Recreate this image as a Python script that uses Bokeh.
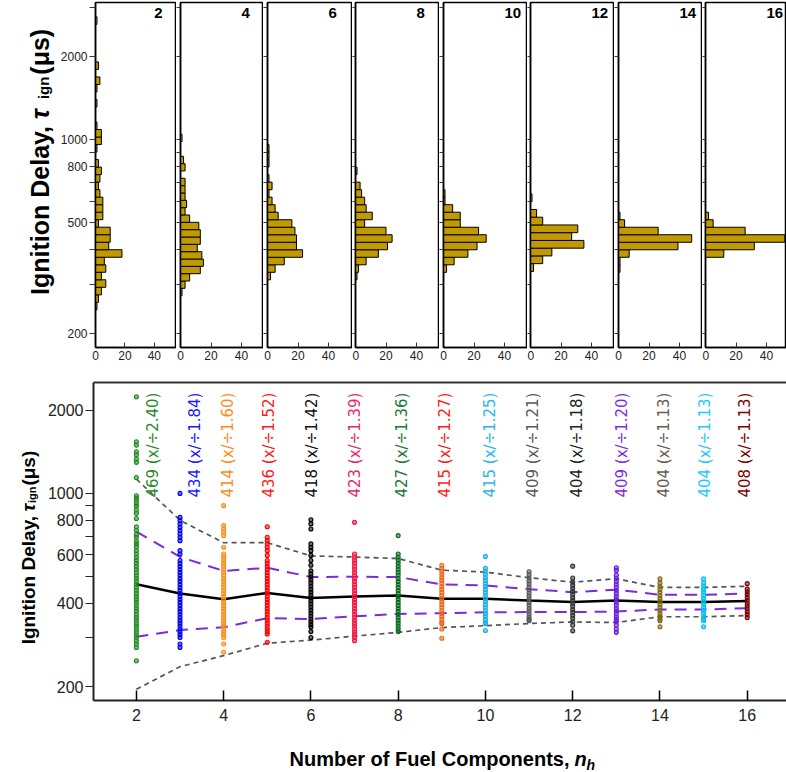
import math
from bokeh.plotting import figure
from bokeh.models import (Range1d, FixedTicker, LinearAxis, ColumnDataSource, PrintfTickFormatter,
                          CustomJSTickFormatter, CustomLabelingPolicy)
from bokeh.layouts import row, column
from bokeh.embed import file_html
from bokeh.resources import INLINE
from bokeh.core.properties import value

# ---------------- data ----------------
N_COMPONENTS = list(range(2, 17))
GEO_MEAN = [469, 434, 414, 436, 418, 423, 427, 415, 415, 409, 404, 409, 404, 404, 408]
SPREAD = [2.40, 1.84, 1.60, 1.52, 1.42, 1.39, 1.36, 1.27, 1.25, 1.21, 1.18, 1.20, 1.13, 1.13, 1.13]

TAU_N2 = [2235, 1536, 1494, 1414, 1379, 1330, 1294, 1141, 980, 962, 940, 915, 897, 870, 846, 811,
          757, 733, 708, 693, 670, 656, 641, 620, 603, 587, 572, 558, 544, 531, 518, 505, 493, 481,
          469, 457, 446, 435, 424, 414, 404, 394, 384, 375, 365, 356, 348, 339, 331, 323, 315, 307,
          300, 292, 285, 277, 248]
TAU_N3 = [999, 818, 796, 775, 753, 733, 713, 693, 674, 620, 603, 571, 557, 543, 530, 517, 504, 492,
          480, 468, 456, 445, 434, 423, 413, 403, 393, 383, 374, 365, 356, 347, 339, 331, 323, 315,
          308, 301, 285, 277]
TAU_N4 = [902, 764, 743, 723, 703, 638, 603, 588, 573, 559, 545, 531, 518, 505, 492, 480, 468, 456,
          445, 434, 423, 413, 403, 393, 383, 374, 365, 356, 347, 339, 331, 323, 315, 308, 301, 285, 266]
TAU_N5 = [757, 693, 674, 656, 638, 620, 596, 571, 557, 543, 530, 517, 504, 492, 480, 468, 456, 445,
          434, 423, 413, 403, 393, 383, 374, 365, 356, 347, 339, 331, 323, 316, 310, 289]
TAU_N6 = [802, 775, 743, 656, 638, 620, 596, 571, 549, 524, 511, 498, 486, 474, 462, 450, 439, 428,
          418, 408, 398, 388, 378, 369, 360, 351, 343, 335, 328, 316, 301]
TAU_N7 = [785, 603, 588, 573, 559, 545, 531, 518, 505, 492, 480, 468, 456, 445, 434, 423, 413, 403,
          393, 383, 374, 365, 356, 347, 339, 331, 323, 315, 308, 301, 293]
TAU_N8 = [703, 603, 588, 573, 559, 545, 531, 518, 505, 492, 480, 468, 456, 445, 434, 423, 413, 403,
          393, 383, 374, 365, 356, 347, 339, 331, 323, 316]
TAU_N9 = [549, 535, 522, 509, 496, 484, 472, 460, 449, 438, 427, 416, 406, 396, 386, 376, 367, 358,
          349, 341, 337, 323, 299]
TAU_N10 = [591, 535, 522, 509, 496, 484, 472, 460, 449, 438, 427, 416, 406, 396, 386, 376, 367, 358,
           349, 341, 337, 319]
TAU_N11 = [520, 507, 494, 482, 470, 458, 447, 436, 425, 414, 404, 394, 384, 375, 366, 357, 350, 346]
TAU_N12 = [545, 494, 477, 465, 453, 442, 431, 420, 410, 400, 390, 380, 371, 362, 353, 343, 333, 318]
TAU_N13 = [538, 526, 506, 493, 481, 469, 457, 446, 435, 424, 414, 404, 394, 384, 375, 366, 357, 349,
           343, 333, 323, 314]
TAU_N14 = [490, 473, 461, 449, 438, 427, 416, 406, 396, 386, 376, 367, 358, 350, 346, 329]
TAU_N15 = [490, 474, 462, 450, 439, 428, 417, 407, 397, 387, 377, 368, 359, 351, 346, 329]
TAU_N16 = [471, 450, 440, 430, 420, 410, 400, 391, 382, 373, 364, 355]
TAU = [TAU_N2, TAU_N3, TAU_N4, TAU_N5, TAU_N6, TAU_N7, TAU_N8, TAU_N9, TAU_N10, TAU_N11,
       TAU_N12, TAU_N13, TAU_N14, TAU_N15, TAU_N16]

# histograms (log-spaced bins): lowest bin edge (us), bin width (decades), counts bottom->top
HIST_N = [2, 4, 6, 8, 10, 12, 14, 16]
HIST_LO = [242.6, 272.9, 311.5, 311.5, 331.6, 334.2, 331.6, 375.8]
HIST_DLOG = [0.02717, 0.02654, 0.02717, 0.02717, 0.02717, 0.02799, 0.02717, 0.02717]
HIST_COUNTS = [
    [1, 2, 4, 7, 4, 7, 6, 18, 9, 10, 10, 2, 5, 5, 5, 3, 2, 3, 4, 2, 0, 1, 4, 4, 1, 0, 0, 1, 0, 1,
     3, 0, 2, 0, 0, 0, 0, 0, 1],
    [1, 3, 6, 13, 15, 14, 11, 13, 13, 12, 6, 3, 4, 3, 3, 3, 0, 3, 2, 0, 0, 1],
    [2, 5, 11, 23, 19, 19, 18, 16, 7, 5, 3, 1, 3, 1, 0, 1, 1, 1],
    [1, 2, 7, 15, 21, 24, 20, 6, 11, 7, 6, 4, 3, 0, 1],
    [2, 7, 16, 22, 28, 23, 11, 11, 6, 1, 1],
    [2, 8, 14, 35, 27, 31, 8, 4, 0, 1],
    [1, 1, 7, 39, 48, 26, 4, 1],
    [12, 32, 52, 26, 5, 2],
]

# ---------------- styles ----------------
FONT = "Liberation Sans"
POINT_COLORS = ["#1f8a1f", "#0000f0", "#ff8c1a", "#ff0000", "#000000", "#f5153f", "#0c6b22",
                "#f06a1c", "#1eb0e8", "#555555", "#333333", "#6a1fd6", "#7f6a14", "#00bff5", "#7a0000"]
TEXT_COLORS = ["#2a8a2a", "#1a1aff", "#ff8c1a", "#ff1a1a", "#111111", "#e8286a", "#217a33",
               "#ff1a1a", "#29b6f0", "#5a5a5a", "#222222", "#7b2ee6", "#6b5a52", "#1ec8ff", "#800000"]
LABEL_DX = [0.39, 0.34, 0.09, 0.05, 0.02, 0.0, 0.08, 0.07, 0.1, 0.1, 0.09, 0.12, 0.1, 0.03, -0.06]
BAR_COLOR = "#C09A00"

NO_LABELS = CustomLabelingPolicy(code="for (const i of indices) indices.unset(i); return indices")


def canvas(w, h):
    c = figure(width=w, height=h, x_range=Range1d(0, w), y_range=Range1d(0, h),
               output_backend="svg", toolbar_location=None,
               min_border=0, min_border_left=0, min_border_right=0,
               min_border_top=0, min_border_bottom=0,
               x_axis_location=None, y_axis_location=None, outline_line_color=None)
    c.grid.visible = False
    return c


def rtext(c, x, y, s, size, style="bold", align="left", angle=0.0, baseline="alphabetic"):
    c.text(x=[x], y=[y], text=[s], angle=angle, text_align=align, text_baseline=baseline,
           text_font=value(FONT), text_font_style=style, text_font_size=size, text_color="black")


# ---------------- top row: histograms ----------------
TOP_H = 368
title_top = canvas(57, TOP_H)
rtext(title_top, 39.5, TOP_H - 131.7, "Ignition Delay,", "25px", align="right", angle=math.pi / 2)
rtext(title_top, 39.5, TOP_H - 124.5, "τ", "25px", style="bold italic", angle=math.pi / 2)
rtext(title_top, 43.0, TOP_H - 103.0, "ign", "15px", angle=math.pi / 2)
rtext(title_top, 39.5, TOP_H - 77.0, "(μs)", "25px", angle=math.pi / 2)

fig_w = [119, 87, 89, 87, 88, 87, 88, 84]
left_b = [35, 4, 4, 3, 4, 3, 4, 3]
PX_PER_COUNT = 1.525
panels = []
for i, n in enumerate(HIST_N):
    fw = fig_w[i] - left_b[i]
    p = figure(width=fig_w[i], height=TOP_H, x_range=Range1d(0, fw / PX_PER_COUNT),
               y_range=Range1d(177.3, 3136), y_axis_type="log", output_backend="svg",
               toolbar_location=None, min_border_left=left_b[i], min_border_right=0,
               min_border_top=2, min_border_bottom=21)
    p.outline_line_color = "black"
    p.outline_line_width = 1.5
    p.outline_line_alpha = 1.0
    p.grid.visible = False
    lo, d = HIST_LO[i], HIST_DLOG[i]
    bottoms, tops, rights = [], [], []
    for j, c in enumerate(HIST_COUNTS[i]):
        if c > 0:
            bottoms.append(lo * 10 ** (d * j))
            tops.append(lo * 10 ** (d * (j + 1)))
            rights.append(c)
    p.quad(left=0, right=rights, bottom=bottoms, top=tops, fill_color=BAR_COLOR,
           line_color="black", line_width=1)
    p.text(x=[40], y=[3005], text=[str(n)], text_align="left", text_baseline="top",
           text_font=value(FONT), text_font_style="bold", text_font_size="15px", text_color="black")

    xa = p.xaxis[0]
    xa.ticker = FixedTicker(ticks=[0, 20, 40])
    xa.major_tick_in = 5
    xa.major_tick_out = 0
    xa.minor_tick_line_color = None
    xa.major_tick_line_color = "#333333"
    xa.axis_line_color = "black"
    xa.axis_line_width = 1.5
    xa.major_label_text_font = FONT
    xa.major_label_text_font_size = "12px"
    xa.major_label_text_color = "#222222"
    xa.major_label_standoff = 3

    ya = p.yaxis[0]
    ya.ticker = FixedTicker(ticks=[200, 500, 800, 1000, 2000],
                            minor_ticks=[300, 400, 600, 700, 900, 3000])
    ya.major_tick_in = 0
    ya.minor_tick_in = 0
    ya.major_tick_line_color = "#333333"
    ya.minor_tick_line_color = "#333333"
    ya.axis_line_color = "black"
    ya.axis_line_width = 1.5
    ya.major_label_text_font = FONT
    ya.major_label_text_font_size = "12px"
    ya.major_label_text_color = "#222222"
    if i == 0:
        ya.formatter = PrintfTickFormatter(format="%d")
        ya.major_tick_out = 6
        ya.minor_tick_out = 6
        ya.major_label_standoff = 2
    else:
        ya.formatter = CustomJSTickFormatter(code="return ''")
        ya.major_label_policy = NO_LABELS
        ya.major_tick_out = left_b[i]
        ya.minor_tick_out = left_b[i]
        ya.major_label_standoff = 0
    panels.append(p)

# ---------------- bottom: scatter ----------------
BOT_H = 367
title_bot = canvas(44, BOT_H)
rtext(title_bot, 27.5, 735 - 522, "Ignition Delay,", "19px", align="right", angle=math.pi / 2)
rtext(title_bot, 27.5, 735 - 517, "τ", "19px", style="bold italic", angle=math.pi / 2)
rtext(title_bot, 31.5, 735 - 507, "ign", "11px", angle=math.pi / 2)
rtext(title_bot, 27.5, 735 - 487, "(μs)", "19px", angle=math.pi / 2)

pb = figure(width=742, height=BOT_H, x_range=Range1d(1.017, 16.9), y_range=Range1d(178, 2516),
            y_axis_type="log", output_backend="svg", toolbar_location=None,
            min_border_left=47, min_border_right=0, min_border_top=14, min_border_bottom=35)
pb.outline_line_color = None
pb.grid.visible = False

bx = pb.below[0]
bx.ticker = FixedTicker(ticks=list(range(2, 17, 2)))
bx.major_tick_in = 10
bx.major_tick_out = 0
bx.minor_tick_line_color = None
bx.major_tick_line_color = "black"
bx.major_tick_line_width = 1.5
bx.axis_line_color = "#222222"
bx.axis_line_width = 2
bx.major_label_text_font = FONT
bx.major_label_text_font_size = "16px"
bx.major_label_text_color = "#222222"
bx.major_label_standoff = 8

by = pb.left[0]
by.ticker = FixedTicker(ticks=[200, 400, 600, 800, 1000, 2000], minor_ticks=[300, 500, 700, 900])
by.formatter = PrintfTickFormatter(format="%d")
by.major_tick_in = 0
by.minor_tick_in = 0
by.major_tick_out = 8
by.minor_tick_out = 8
by.major_tick_line_color = "#222222"
by.minor_tick_line_color = "#222222"
by.axis_line_color = "#222222"
by.axis_line_width = 2
by.major_label_text_font = FONT
by.major_label_text_font_size = "16px"
by.major_label_text_color = "#222222"
by.major_label_standoff = 2

top_ax = LinearAxis(ticker=FixedTicker(ticks=[]), major_tick_line_color=None,
                    minor_tick_line_color=None, axis_line_color="#333333", axis_line_width=2,
                    major_label_standoff=0)
pb.add_layout(top_ax, "above")

upper2 = [m * f for m, f in zip(GEO_MEAN, SPREAD)]
lower2 = [m / f for m, f in zip(GEO_MEAN, SPREAD)]
upper1 = [m * math.sqrt(f) for m, f in zip(GEO_MEAN, SPREAD)]
lower1 = [m / math.sqrt(f) for m, f in zip(GEO_MEAN, SPREAD)]
pb.line(N_COMPONENTS, upper2, line_color="#555555", line_width=1.7, line_dash="5 4")
pb.line(N_COMPONENTS, lower2, line_color="#555555", line_width=1.7, line_dash="5 4")
pb.line(N_COMPONENTS, upper1, line_color="#7b2ae0", line_width=2, line_dash="12 8")
pb.line(N_COMPONENTS, lower1, line_color="#7b2ae0", line_width=2, line_dash="12 8")
pb.line(N_COMPONENTS, GEO_MEAN, line_color="black", line_width=2.5)

for n, vals, col in zip(N_COMPONENTS, TAU, POINT_COLORS):
    pb.scatter(x=[n] * len(vals), y=vals, marker="circle", size=4, fill_color=col,
               fill_alpha=0.55, line_color=col, line_width=1.1)

lab_src = ColumnDataSource(dict(
    x=[n + dx for n, dx in zip(N_COMPONENTS, LABEL_DX)],
    y=[965] * len(N_COMPONENTS),
    text=[f"{m} (x/÷{f:.2f})" for m, f in zip(GEO_MEAN, SPREAD)],
    color=TEXT_COLORS,
))
pb.text(x="x", y="y", text="text", source=lab_src, angle=math.pi / 2, text_align="left",
        text_baseline="middle", text_font=value("DejaVu Sans"), text_font_size="15px",
        text_color="color")

# x-axis title
xt = canvas(786, 37)
rtext(xt, 569, 14, "Number of Fuel Components,", "20px", align="right")
rtext(xt, 574, 14, "n", "20px", style="bold italic")
rtext(xt, 586, 8, "h", "14px", style="bold italic")

layout = column(row(title_top, *panels), row(title_bot, pb), xt)
open("out.html", "w").write(file_html(layout, INLINE))
